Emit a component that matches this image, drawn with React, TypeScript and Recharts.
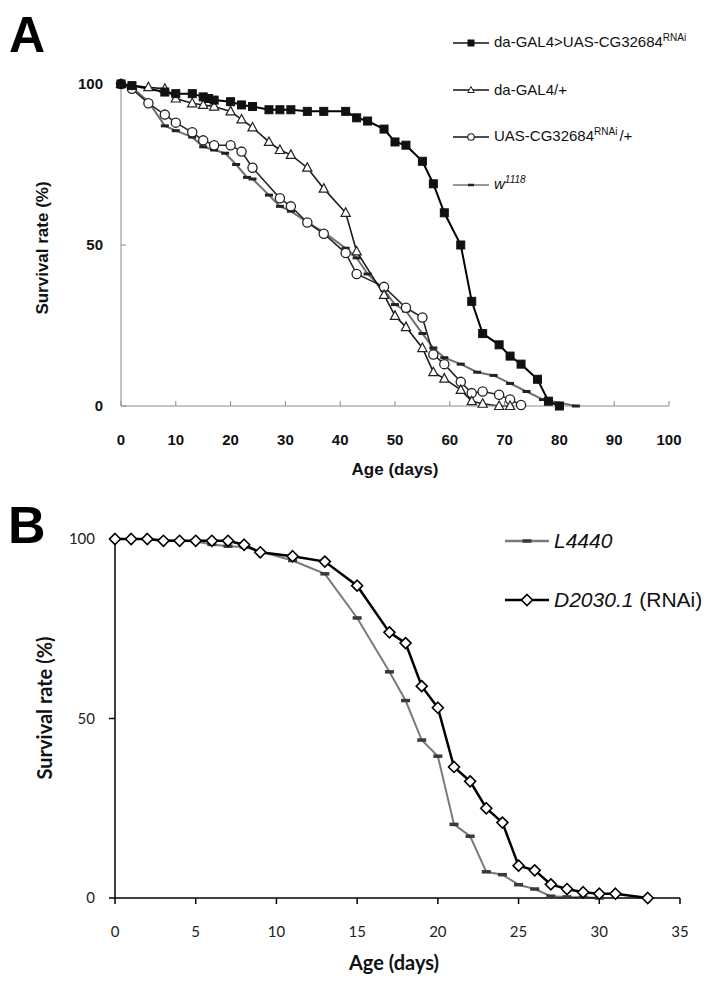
import { LineChart, Line, XAxis, YAxis } from 'recharts';

// Panel A: Drosophila lifespan
const A_KD_DAYS = [0, 2, 8, 10, 13, 15, 16, 17, 20, 22, 24, 27, 29, 31, 34, 37, 41, 43, 45, 48, 50, 52, 55, 57, 59, 62, 64, 66, 69, 71, 73, 76, 78, 80];
const A_KD_SURV = [100, 99.5, 97.5, 97, 97, 96, 95.5, 95, 94.5, 93.5, 93, 92, 92, 92, 91.5, 91.5, 91.5, 89.5, 88.5, 86, 82, 81, 76, 69, 60, 50, 32.5, 22.5, 19, 15.5, 13, 8.3, 1.5, 0];

const A_GAL4_DAYS = [0, 5, 8, 10, 13, 15, 17, 20, 22, 24, 27, 29, 31, 34, 37, 41, 43, 48, 50, 52, 55, 57, 59, 62, 64, 66, 69, 71];
const A_GAL4_SURV = [100, 99, 98.5, 95.5, 94, 93.5, 93, 91.5, 89, 86.5, 82, 79.5, 78, 74, 67.5, 60, 48, 34.5, 28, 24.5, 18, 10.5, 8.5, 5, 1.5, 0.7, 0, 0];

const A_UAS_DAYS = [0, 2, 5, 8, 10, 13, 15, 17, 20, 22, 24, 29, 31, 34, 37, 41, 43, 48, 52, 55, 57, 59, 62, 64, 66, 69, 71, 73];
const A_UAS_SURV = [100, 98.5, 94, 90.5, 88, 85, 82.5, 81, 81, 79, 74, 64.5, 62, 57, 53.5, 47.5, 41, 37, 30.5, 27.5, 16, 13, 7.5, 4, 4.5, 3.5, 2, 0.3];

const A_W_DAYS = [0, 2, 5, 8, 10, 13, 15, 17, 19, 21, 23, 24, 27, 29, 31, 34, 37, 41, 43, 45, 48, 50, 52, 55, 57, 59, 62, 65, 68, 71, 74, 77, 83];
const A_W_SURV = [100, 99, 94.5, 87, 85.5, 83.5, 80.5, 79.5, 78.5, 75, 71, 70.5, 65.5, 62, 60.5, 57, 54, 49, 46, 41, 36, 31.5, 29.5, 22.5, 18, 15, 13, 10.5, 9.5, 7, 4.5, 2, 0];

const A_X_TICKS = [0, 10, 20, 30, 40, 50, 60, 70, 80, 90, 100];
const A_Y_TICKS = [0, 50, 100];

// Panel B: C. elegans lifespan
const B_L4440_DAYS = [0, 1, 2, 3, 4, 5, 6, 7, 8, 9, 11, 13, 15, 17, 18, 19, 20, 21, 22, 23, 24, 25, 26, 27, 28, 29, 30];
const B_L4440_SURV = [100, 100, 100, 99.7, 99.5, 99.3, 98.5, 98, 97.8, 96.5, 94, 90.3, 78, 63, 55, 44, 39.5, 20.5, 17.2, 7.3, 6.5, 3.7, 2.5, 0.5, 0.3, 0.2, 0];

const B_RNAI_DAYS = [0, 1, 2, 3, 4, 5, 6, 7, 8, 9, 11, 13, 15, 17, 18, 19, 20, 21, 22, 23, 24, 25, 26, 27, 28, 29, 30, 31, 33];
const B_RNAI_SURV = [100, 100, 100, 99.5, 99.5, 99.5, 99.5, 99.5, 98.4, 96.3, 95.2, 93.7, 87, 74, 71, 59, 53, 36.5, 32.5, 25, 21, 9, 7.7, 3.8, 2.5, 1.6, 1.2, 1.2, 0];

const B_X_TICKS = [0, 5, 10, 15, 20, 25, 30, 35];
const B_Y_TICKS = [0, 50, 100];

const rows = (days: number[], vals: number[]) => days.map((d, i) => ({ day: d, v: vals[i] }));

const fontA = '"Liberation Sans", Arial, sans-serif';
const fontB = 'Lato, "Open Sans", sans-serif';

// marker shapes
const square = (fill: string) => (p: any) => (
  <rect key={`sq-${p.index}`} x={p.cx - 4} y={p.cy - 4} width={8} height={8} fill={fill} stroke="#111" strokeWidth={1} />
);
const triangle = (p: any) => (
  <path
    key={`tr-${p.index}`}
    d={`M${p.cx},${p.cy - 5}L${p.cx + 4.6},${p.cy + 3.5}L${p.cx - 4.6},${p.cy + 3.5}Z`}
    fill="#fff"
    stroke="#222"
    strokeWidth={1.2}
  />
);
const circle = (p: any) => (
  <circle key={`ci-${p.index}`} cx={p.cx} cy={p.cy} r={4.6} fill="#fff" stroke="#222" strokeWidth={1.3} />
);
const dash = (w: number, h: number, fill: string) => (p: any) => (
  <rect key={`da-${p.index}`} x={p.cx - w / 2} y={p.cy - h / 2} width={w} height={h} fill={fill} />
);
const diamond = (p: any) => (
  <path
    key={`di-${p.index}`}
    d={`M${p.cx},${p.cy - 5.5}L${p.cx + 5.5},${p.cy}L${p.cx},${p.cy + 5.5}L${p.cx - 5.5},${p.cy}Z`}
    fill="#fff"
    stroke="#000"
    strokeWidth={1.6}
  />
);

function LegendRow({ top, left, lineColor, lineWidth, marker, children, size, family, lineLen = 36 }: any) {
  return (
    <div
      style={{
        position: 'absolute',
        left,
        top: top - 12,
        height: 24,
        display: 'flex',
        alignItems: 'center',
        whiteSpace: 'nowrap',
        fontFamily: family,
        fontSize: size,
        color: '#111',
      }}
    >
      <svg width={lineLen} height={24} style={{ display: 'block' }}>
        <line x1={0} y1={12} x2={lineLen} y2={12} stroke={lineColor} strokeWidth={lineWidth} />
        {marker({ cx: lineLen / 2, cy: 12, index: 0 })}
      </svg>
      <span style={{ marginLeft: 5, lineHeight: '24px' }}>{children}</span>
    </div>
  );
}

const sup = (t: string, s: number) => (
  <span style={{ fontSize: s, position: 'relative', top: -6 }}>{t}</span>
);

const smallTri = (p: any) => (
  <path d={`M${p.cx},${p.cy - 3.5}L${p.cx + 3.2},${p.cy + 2.5}L${p.cx - 3.2},${p.cy + 2.5}Z`} fill="#fff" stroke="#222" strokeWidth={1} />
);
const smallCirc = (p: any) => <circle cx={p.cx} cy={p.cy} r={3.3} fill="#fff" stroke="#222" strokeWidth={1.1} />;
const smallSq = (p: any) => <rect x={p.cx - 3.5} y={p.cy - 3.5} width={7} height={7} fill="#111" />;

export default function App() {
  const tickA = { fill: '#111', fontSize: 15, fontWeight: 700, fontFamily: fontA };
  const tickB = { fill: '#222', fontSize: 15, fontFamily: fontB };

  return (
    <div style={{ position: 'absolute', left: 0, top: 0, width: 727, height: 984, background: '#fff', overflow: 'hidden' }}>
      {/* Panel A */}
      <div style={{ position: 'absolute', left: 0, top: 0 }}>
        <LineChart width={727} height={490} margin={{ top: 84, right: 58, bottom: 0, left: 0 }}>
          <XAxis
            type="number"
            dataKey="day"
            domain={[0, 100]}
            ticks={A_X_TICKS}
            height={84}
            stroke="#8a8a8a"
            tickSize={-5}
            tickMargin={33}
            tick={tickA}
            allowDuplicatedCategory={false}
          />
          <YAxis
            type="number"
            domain={[0, 100]}
            ticks={A_Y_TICKS}
            width={121}
            stroke="#8a8a8a"
            tickSize={-5}
            tickMargin={23}
            tick={tickA}
          />
          <Line data={rows(A_W_DAYS, A_W_SURV)} dataKey="v" stroke="#6f6f6f" strokeWidth={2} dot={dash(8, 3, '#222')} isAnimationActive={false} />
          <Line data={rows(A_UAS_DAYS, A_UAS_SURV)} dataKey="v" stroke="#2a2a2a" strokeWidth={1.6} dot={circle} isAnimationActive={false} />
          <Line data={rows(A_GAL4_DAYS, A_GAL4_SURV)} dataKey="v" stroke="#1a1a1a" strokeWidth={1.6} dot={triangle} isAnimationActive={false} />
          <Line data={rows(A_KD_DAYS, A_KD_SURV)} dataKey="v" stroke="#000" strokeWidth={2} dot={square('#111')} isAnimationActive={false} />
        </LineChart>
      </div>

      <div style={{ position: 'absolute', left: 9, top: 6, fontFamily: fontA, fontWeight: 700, fontSize: 50, color: '#000' }}>A</div>
      <div
        style={{
          position: 'absolute',
          left: 43,
          top: 248,
          transform: 'translate(-50%, -50%) rotate(-90deg)',
          fontFamily: fontA,
          fontWeight: 700,
          fontSize: 17,
          whiteSpace: 'nowrap',
          color: '#111',
        }}
      >
        Survival rate (%)
      </div>
      <div
        style={{
          position: 'absolute',
          left: 395,
          top: 470,
          transform: 'translate(-50%, -50%)',
          fontFamily: fontA,
          fontWeight: 700,
          fontSize: 17,
          whiteSpace: 'nowrap',
          color: '#111',
        }}
      >
        Age (days)
      </div>

      <LegendRow top={43} left={453} lineColor="#111" lineWidth={1.6} marker={smallSq} size={15} family={fontA}>
        da-GAL4&gt;UAS-CG32684{sup('RNAi', 10)}
      </LegendRow>
      <LegendRow top={90} left={453} lineColor="#111" lineWidth={1.6} marker={smallTri} size={15} family={fontA}>
        da-GAL4/+
      </LegendRow>
      <LegendRow top={137} left={453} lineColor="#111" lineWidth={1.6} marker={smallCirc} size={15} family={fontA}>
        UAS-CG32684{sup('RNAi', 10)}
        <span style={{ marginLeft: 2 }}>/+</span>
      </LegendRow>
      <LegendRow top={185} left={453} lineColor="#777" lineWidth={1.6} marker={dash(6, 2.5, '#222')} size={15} family={fontA}>
        <i>w{sup('1118', 10)}</i>
      </LegendRow>

      {/* Panel B */}
      <div style={{ position: 'absolute', left: 0, top: 490 }}>
        <LineChart width={727} height={494} margin={{ top: 49, right: 47, bottom: 0, left: 0 }}>
          <XAxis
            type="number"
            dataKey="day"
            domain={[0, 35]}
            ticks={B_X_TICKS}
            height={86}
            stroke="#000"
            strokeWidth={1.5}
            tickSize={6}
            tickMargin={22}
            tick={tickB}
            allowDuplicatedCategory={false}
          />
          <YAxis
            type="number"
            domain={[0, 100]}
            ticks={B_Y_TICKS}
            width={115}
            stroke="#000"
            strokeWidth={1.5}
            tickSize={6}
            tickMargin={14}
            tick={tickB}
          />
          <Line data={rows(B_L4440_DAYS, B_L4440_SURV)} dataKey="v" stroke="#7a7a7a" strokeWidth={2} dot={dash(9, 3.5, '#3a3a3a')} isAnimationActive={false} />
          <Line data={rows(B_RNAI_DAYS, B_RNAI_SURV)} dataKey="v" stroke="#000" strokeWidth={2.5} dot={diamond} isAnimationActive={false} />
        </LineChart>
      </div>

      <div style={{ position: 'absolute', left: 8, top: 495, fontFamily: fontA, fontWeight: 700, fontSize: 52, color: '#000' }}>B</div>
      <div
        style={{
          position: 'absolute',
          left: 44,
          top: 708,
          transform: 'translate(-50%, -50%) rotate(-90deg)',
          fontFamily: fontB,
          fontWeight: 700,
          fontSize: 20,
          whiteSpace: 'nowrap',
          color: '#111',
        }}
      >
        Survival rate (%)
      </div>
      <div
        style={{
          position: 'absolute',
          left: 394,
          top: 962,
          transform: 'translate(-50%, -50%)',
          fontFamily: fontB,
          fontWeight: 700,
          fontSize: 20,
          whiteSpace: 'nowrap',
          color: '#111',
        }}
      >
        Age (days)
      </div>

      <LegendRow top={541} left={505} lineColor="#7a7a7a" lineWidth={2.5} marker={dash(9, 3.5, '#3a3a3a')} size={21} family={fontA} lineLen={44}>
        <i>L4440</i>
      </LegendRow>
      <LegendRow top={600} left={505} lineColor="#000" lineWidth={2.5} marker={diamond} size={21} family={fontA} lineLen={44}>
        <i>D2030.1</i> (RNAi)
      </LegendRow>
    </div>
  );
}
